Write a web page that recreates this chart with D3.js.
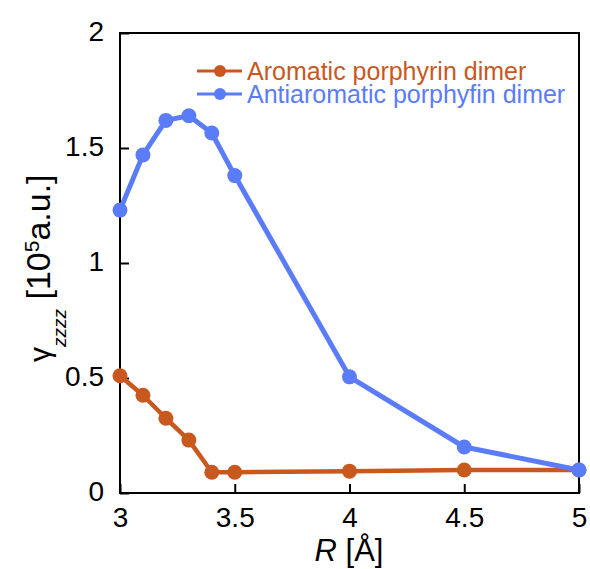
<!DOCTYPE html>
<meta charset="utf-8">
<style>
body { margin: 0; background: #fff; }
text { font-family: "Liberation Sans", Arial, Helvetica, sans-serif; fill: #000; }
</style>
<body>
<script src="https://d3js.org/d3.v7.min.js"></script>
<script>

const width = 590,
    height = 569

// data
const seriesNames = ['Aromatic porphyrin dimer', 'Antiaromatic porphyfin dimer']
const seriesColors = ['#c9581f', '#5b7cf8']
const rValues = [3.0, 3.1, 3.2, 3.3, 3.4, 3.5, 4.0, 4.5, 5.0]
const aromatic = [0.51, 0.425, 0.325, 0.23, 0.09, 0.09, 0.095, 0.1, 0.1]
const antiaromatic = [1.23, 1.47, 1.62, 1.64, 1.565, 1.38, 0.505, 0.2, 0.1]
const xTicks = [3, 3.5, 4, 4.5, 5]
const yTicks = [0, 0.5, 1, 1.5, 2]

const margin = { left: 120, right: 10, top: 33, bottom: 76 }

var svg = d3.select('body')
    .append('svg')
    .attr('width', width)
    .attr('height', height)

var x = d3.scaleLinear()
    .domain([3, 5])
    .range([margin.left, width - margin.right - 1])

var y = d3.scaleLinear()
    .domain([0, 2])
    .range([height - margin.bottom, margin.top])

// frame
svg.append('rect')
    .attr('x', x(3))
    .attr('y', y(2))
    .attr('width', x(5) - x(3))
    .attr('height', y(0) - y(2))
    .attr('fill', 'none')
    .attr('stroke', '#000')
    .attr('stroke-width', 2)

var xAxis = svg.append('g')
    .attr('transform', 'translate(0,' + y(0) + ')')
    .call(d3.axisBottom(x).tickValues(xTicks).tickSizeInner(-9).tickSizeOuter(0)
        .tickFormat(d3.format('')))
xAxis.select('.domain').remove()
xAxis.selectAll('line').attr('stroke-width', 2)
xAxis.selectAll('text')
    .attr('y', 34)
    .attr('dy', 0)
    .style('font-size', '28px')

var yAxis = svg.append('g')
    .attr('transform', 'translate(' + x(3) + ',0)')
    .call(d3.axisLeft(y).tickValues(yTicks).tickSizeInner(-9).tickSizeOuter(0)
        .tickFormat(d3.format('')))
yAxis.select('.domain').remove()
yAxis.selectAll('line').attr('stroke-width', 2)
yAxis.selectAll('text')
    .attr('x', -16)
    .attr('dy', '0.25em')
    .style('font-size', '28px')

// axis titles
var xt = svg.append('text')
    .attr('x', 349)
    .attr('y', 561)
    .attr('text-anchor', 'middle')
    .style('font-size', '31px')
xt.append('tspan').style('font-style', 'italic').text('R')
xt.append('tspan').text(' [\u00c5]')

var yt = svg.append('text')
    .attr('transform', 'translate(50,362) rotate(-90)')
    .style('font-size', '34px')
yt.append('tspan').style('font-size', '30px').text('\u03b3')
yt.append('tspan').attr('dy', 16).style('font-size', '19px').style('font-style', 'italic').text('zzzz')
yt.append('tspan').attr('dy', -16).text(' [10')
yt.append('tspan').attr('dy', -11).style('font-size', '21px').text('5')
yt.append('tspan').attr('dy', 11).text('a.u.]')

var series = [
    { name: seriesNames[0], color: seriesColors[0], values: aromatic, width: 4.5 },
    { name: seriesNames[1], color: seriesColors[1], values: antiaromatic, width: 5 }
]

var line = d3.line()
    .x(function (d) { return x(d[0]) })
    .y(function (d) { return y(d[1]) })

series.forEach(function (s) {
    var pts = rValues.map(function (r, i) { return [r, s.values[i]] })
    svg.append('path')
        .datum(pts)
        .attr('d', line)
        .attr('fill', 'none')
        .attr('stroke', s.color)
        .attr('stroke-width', s.width)
        .attr('stroke-linejoin', 'round')
    svg.append('g').selectAll('circle')
        .data(pts)
        .enter().append('circle')
        .attr('cx', function (d) { return x(d[0]) })
        .attr('cy', function (d) { return y(d[1]) })
        .attr('r', 7.5)
        .attr('fill', s.color)
})

// legend
var legend = svg.append('g')
    .attr('transform', 'translate(197,71)')

series.forEach(function (s, i) {
    var g = legend.append('g').attr('transform', 'translate(0,' + i * 23 + ')')
    g.append('line')
        .attr('x1', 0).attr('x2', 45)
        .attr('stroke', s.color)
        .attr('stroke-width', 3)
    g.append('circle')
        .attr('cx', 23)
        .attr('r', 6)
        .attr('fill', s.color)
    g.append('text')
        .attr('x', 50)
        .attr('y', 9)
        .style('font-size', '25px')
        .style('fill', s.color)
        .text(s.name)
})

</script>
</body>
